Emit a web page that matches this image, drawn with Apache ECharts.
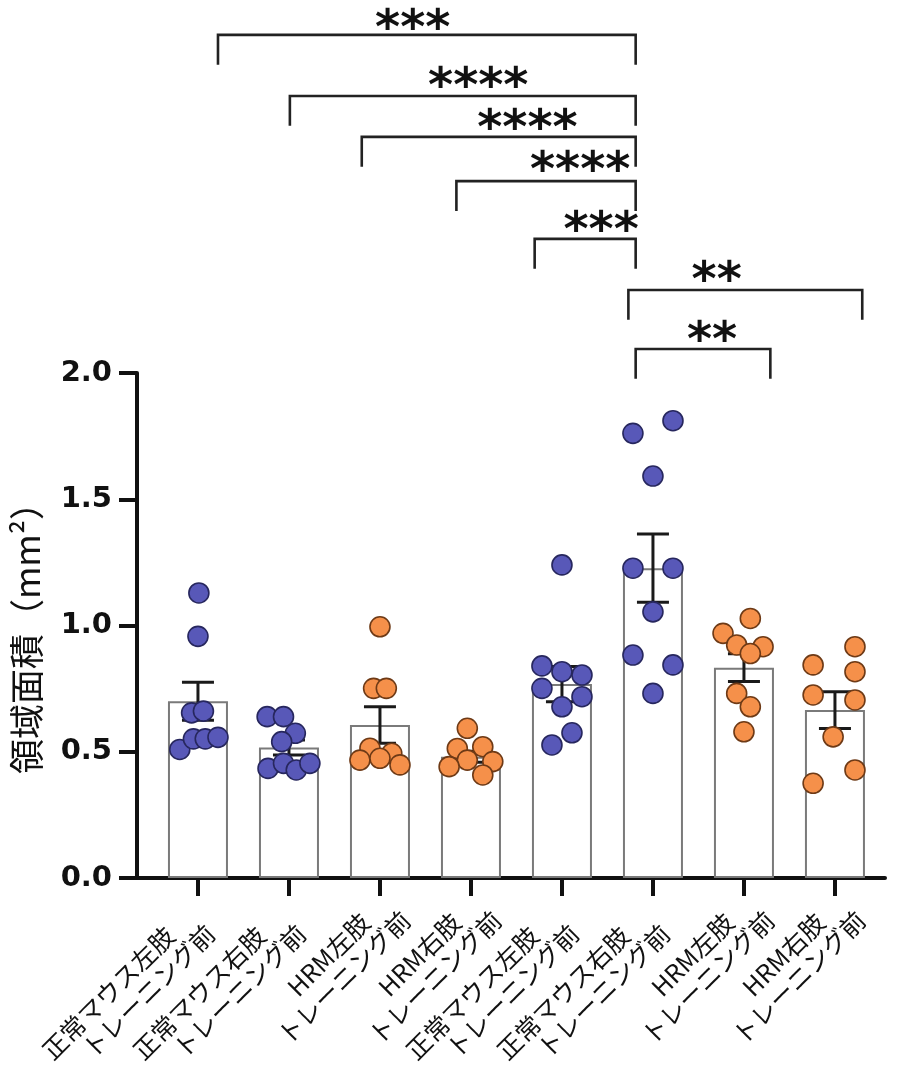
<!DOCTYPE html>
<html><head><meta charset="utf-8">
<script src="https://cdn.jsdelivr.net/npm/echarts@6/dist/echarts.min.js"></script>
<style>html,body{margin:0;padding:0;background:#fff}#c{width:900px;height:1077px}</style>
</head><body><div id="c"></div>
<script>
// ---- data ----
const labelLine1 = ['正常マウス左肢','正常マウス右肢','HRM左肢','HRM右肢','正常マウス左肢','正常マウス右肢','HRM左肢','HRM右肢'];
const labelLine2 = ['トレーニング前','トレーニング前','トレーニング前','トレーニング前','トレーニング前','トレーニング前','トレーニング前','トレーニング前'];
const groupType = ['blue','blue','orange','orange','blue','blue','orange','orange'];
const means = [0.70, 0.517, 0.606, 0.48, 0.768, 1.227, 0.833, 0.665];
const sems  = [0.075, 0.03, 0.072, 0.022, 0.07, 0.135, 0.055, 0.073];
const pointValues = [
  [1.129,0.957,0.654,0.661,0.509,0.551,0.551,0.557],
  [0.639,0.639,0.573,0.540,0.434,0.454,0.428,0.454],
  [0.995,0.751,0.751,0.514,0.494,0.467,0.474,0.448],
  [0.593,0.513,0.520,0.467,0.441,0.461,0.408],
  [1.240,0.840,0.817,0.804,0.751,0.718,0.678,0.575,0.527],
  [1.761,1.811,1.592,1.227,1.227,1.054,0.883,0.844,0.731],
  [1.028,0.969,0.923,0.916,0.889,0.731,0.678,0.579],
  [0.916,0.844,0.817,0.725,0.705,0.559,0.428,0.375]
];
const pointJitter = [
  [0.01,0.0,-0.07,0.06,-0.2,-0.05,0.08,0.22],
  [-0.24,-0.06,0.07,-0.08,-0.23,-0.06,0.08,0.23],
  [0,-0.07,0.07,-0.11,0.13,-0.22,0,0.22],
  [-0.04,-0.15,0.13,-0.04,-0.24,0.24,0.13],
  [0,-0.22,0,0.22,-0.22,0.22,0,0.11,-0.11],
  [-0.22,0.22,0,-0.22,0.22,0,-0.22,0.22,0],
  [0.07,-0.23,-0.08,0.21,0.07,-0.08,0.07,0],
  [0.22,-0.24,0.22,-0.24,0.22,-0.02,0.22,-0.24]
];
const yTicks = [0, 0.5, 1.0, 1.5, 2.0];
// significance brackets (x in category units, y in mm²)
const bracketLeft  = [0.22, 1.01, 1.80, 2.84, 3.70, 4.73, 4.81];
const bracketRight = [4.81, 4.81, 4.81, 4.81, 4.81, 7.30, 6.29];
const bracketY     = [3.339, 3.097, 2.935, 2.760, 2.531, 2.329, 2.095];
const bracketLeg   = 0.118;
const starText     = ['***','****','****','****','***','**','**'];
const starX        = [2.36, 3.08, 3.62, 4.20, 4.43, 5.70, 5.65];
const starY        = [3.356, 3.128, 2.962, 2.792, 2.558, 2.360, 2.122];

// ---- build ----
const colors = {blue:{fill:'#5858B8', border:'#27275e'}, orange:{fill:'#F5904A', border:'#6e3a16'}};
function scatterData(type){
  const out = [];
  pointValues.forEach((vals,i)=>{ if(groupType[i]!==type) return;
    vals.forEach((v,j)=>out.push([i+pointJitter[i][j], v])); });
  return out;
}
const chart = echarts.init(document.getElementById('c'), null, {renderer:'canvas'});
const cats = labelLine1.map((_,i)=>i);
const labelShift = 0.18;
const lblFont = {fontFamily:'"Noto Sans CJK JP"', fontSize:25, lineHeight:27, color:'#111'};
chart.setOption({
  animation:false,
  backgroundColor:'#fff',
  grid:{left:137, right:15, top:373, bottom:199, containLabel:false, outerBoundsMode:'none'},
  xAxis:{
    type:'value', min:-0.67, max:7.55,
    splitLine:{show:false},
    axisLine:{show:true, onZero:false, lineStyle:{color:'#111', width:4}},
    axisTick:{show:true, customValues:cats, length:18, lineStyle:{color:'#111', width:4}},
    axisLabel:{show:true, customValues:cats.map(i=>i+labelShift), rotate:45, margin:28,
      fontFamily:'"Noto Sans CJK JP"', fontSize:25, color:'#111', lineHeight:27,
      formatter:(v)=>{const i=Math.round(v-labelShift);
        const hrm = labelLine1[i].indexOf('HRM')===0;
        return hrm ? '{a|'+labelLine1[i]+'}\n{b|'+labelLine2[i]+'}'
                   : '{c|'+labelLine1[i]+'}\n{d|'+labelLine2[i]+'}';},
      rich:{a:Object.assign({padding:[0,30,0,0]}, lblFont),
            b:Object.assign({}, lblFont),
            c:Object.assign({padding:[0,49,0,0]}, lblFont),
            d:Object.assign({padding:[0,19,0,0]}, lblFont)}
    }
  },
  yAxis:{
    type:'value', min:0, max:2, interval:0.5,
    name:'領域面積（mm²）', nameLocation:'middle', nameRotate:90, nameGap:93,
    nameTextStyle:{fontFamily:'"Noto Sans CJK JP"', fontSize:35, color:'#111', padding:[0,8,0,0]},
    splitLine:{show:false},
    axisLine:{show:true, onZero:false, lineStyle:{color:'#111', width:4}},
    axisTick:{show:true, length:18, lineStyle:{color:'#111', width:4}},
    axisLabel:{margin:25, fontFamily:'"DejaVu Sans"', fontWeight:'bold', fontSize:29, color:'#111',
      customValues:yTicks, formatter:(v)=>v.toFixed(1)}
  },
  series:[
    {type:'bar', data:means.map((m,i)=>[i,m]), barWidth:60, z:1,
     itemStyle:{color:'#ffffff', borderColor:'#7a7a7a', borderWidth:2}},
    {type:'custom', z:3, clip:false,
     data:means.map((m,i)=>[i, m-sems[i], m+sems[i]]),
     renderItem:(params, api)=>{
       const x=api.value(0);
       const lo=api.coord([x, api.value(1)]), hi=api.coord([x, api.value(2)]);
       const h=16, st={stroke:'#1a1a1a', lineWidth:3};
       return {type:'group', children:[
         {type:'line', shape:{x1:lo[0],y1:lo[1],x2:hi[0],y2:hi[1]}, style:st},
         {type:'line', shape:{x1:hi[0]-h,y1:hi[1],x2:hi[0]+h,y2:hi[1]}, style:st},
         {type:'line', shape:{x1:lo[0]-h,y1:lo[1],x2:lo[0]+h,y2:lo[1]}, style:st}
       ]};
     }},
    {type:'scatter', z:4, data:scatterData('blue'), symbolSize:20,
     itemStyle:{color:colors.blue.fill, borderColor:colors.blue.border, borderWidth:1.6, opacity:1}},
    {type:'scatter', z:4, data:scatterData('orange'), symbolSize:20,
     itemStyle:{color:colors.orange.fill, borderColor:colors.orange.border, borderWidth:1.6, opacity:1}},
    {type:'custom', z:5, clip:false,
     data:bracketLeft.map((l,i)=>[l, bracketRight[i], bracketY[i]]),
     renderItem:(params, api)=>{
       const l=api.value(0), r=api.value(1), y=api.value(2);
       const p1=api.coord([l,y-bracketLeg]), p2=api.coord([l,y]), p3=api.coord([r,y]), p4=api.coord([r,y-bracketLeg]);
       return {type:'polyline', shape:{points:[p1,p2,p3,p4]}, style:{stroke:'#222', lineWidth:2.6, fill:null}};
     }},
    {type:'custom', z:5, clip:false,
     data:starX.map((x,i)=>[x, starY[i], i]),
     renderItem:(params, api)=>{
       const p=api.coord([api.value(0), api.value(1)]);
       return {type:'text', x:p[0], y:p[1], style:{text:starText[api.value(2)], fontFamily:'"DejaVu Sans"', fontWeight:'bold', fontSize:48, fill:'#111', align:'center', verticalAlign:'middle'}};
     }}
  ]
});
</script></body></html>
